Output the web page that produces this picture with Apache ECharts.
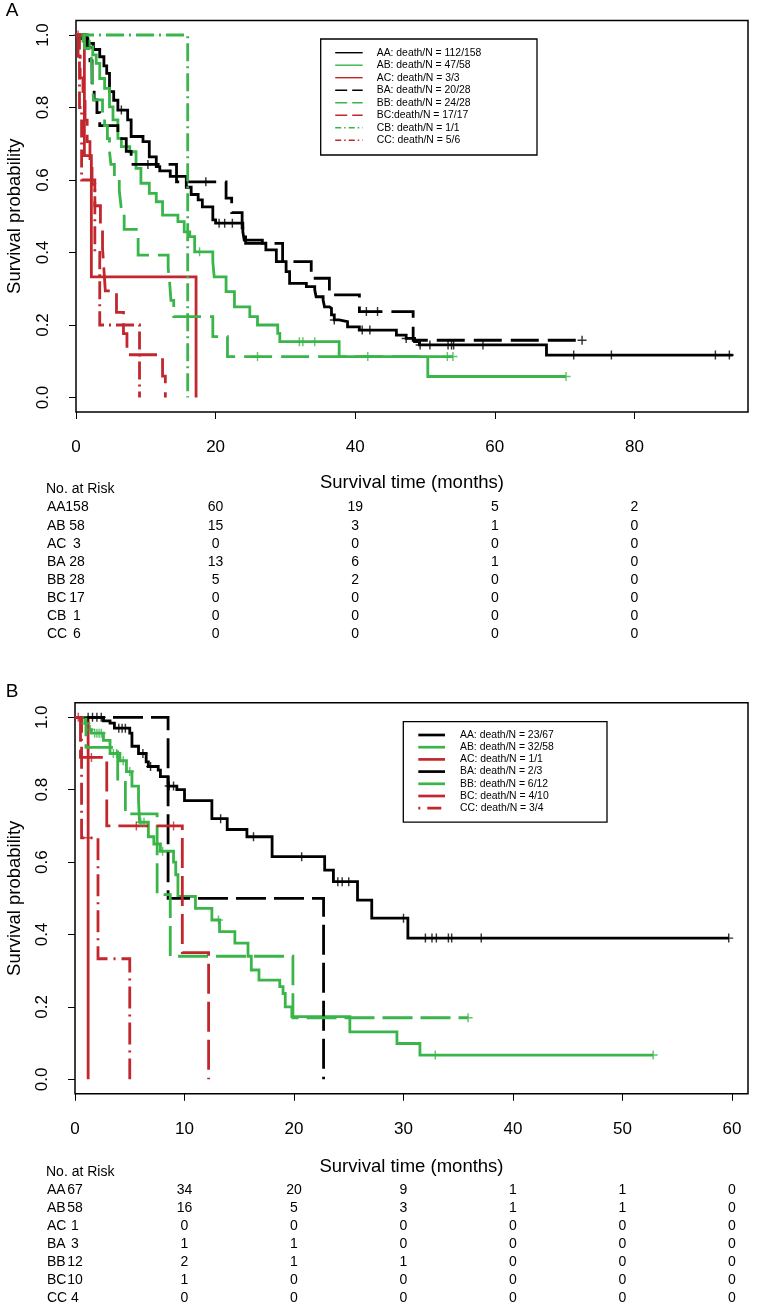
<!DOCTYPE html>
<html><head><meta charset="utf-8">
<script src="https://cdn.jsdelivr.net/npm/echarts@6/dist/echarts.min.js"></script>
<style>html,body{margin:0;padding:0;background:#fff}#c{width:757px;height:1306px}</style>
</head><body><div id="c"></div><script>
// ---------- DATA : panel A (Kaplan-Meier steps [time, survival]) ----------
const A_AA = [[0,1],[0.8,0.99],[1.7,0.977],[2.5,0.96],[3.4,0.94],[4.0,0.915],[4.4,0.894],[4.8,0.844],[5.4,0.82],[6.0,0.793],[7.4,0.766],[7.9,0.72],[9.6,0.706],[10.5,0.664],[11.5,0.637],[12.0,0.625],[13.5,0.61],[15.8,0.58],[16.5,0.56],[17.5,0.545],[18.1,0.526],[19.6,0.49],[20.0,0.481],[23.9,0.457],[24.1,0.434],[26.7,0.426],[27.2,0.407],[28.7,0.375],[30.1,0.347],[30.6,0.315],[33.0,0.306],[34.2,0.297],[34.4,0.278],[35.4,0.269],[35.6,0.25],[36.3,0.246],[36.6,0.228],[37.0,0.214],[37.7,0.209],[38.9,0.195],[40.6,0.186],[45.9,0.172],[47.3,0.163],[48.5,0.154],[49.2,0.145],[67.4,0.117],[94.1,0.117]];
const A_AA_cens = [6.5,20.5,21.3,22.4,37.0,41.0,42.1,47.3,49.3,50.7,53.3,53.8,54.1,58.3,71.3,76.7,91.6,93.6];
const A_AB = [[0,1],[1.0,0.983],[1.9,0.967],[2.4,0.945],[2.9,0.922],[3.4,0.88],[4.1,0.853],[4.8,0.802],[5.3,0.766],[6.0,0.715],[6.5,0.692],[7.7,0.678],[8.6,0.632],[9.3,0.591],[10.5,0.563],[11.5,0.54],[12.4,0.503],[14.6,0.485],[15.5,0.457],[16.3,0.444],[17.0,0.402],[19.6,0.375],[19.8,0.333],[21.5,0.292],[22.7,0.25],[24.9,0.223],[26.0,0.2],[28.9,0.177],[29.2,0.154],[37.7,0.113],[50.4,0.058],[70.2,0.058]];
const A_AB_cens = [17.7,32.0,32.5,34.2,70.2];
const A_AC = [[0,1],[1.2,0.667],[2.2,0.333],[17.2,0]];
const A_AC_cens = [];
const A_BA = [[0,1],[1.6,0.964],[2.0,0.929],[2.3,0.857],[2.6,0.821],[3.0,0.786],[3.4,0.75],[6.0,0.714],[7.2,0.679],[7.9,0.643],[14.4,0.595],[21.5,0.55],[22.3,0.51],[23.8,0.468],[24.3,0.425],[29.6,0.375],[33.7,0.329],[36.3,0.283],[40.6,0.237],[48.3,0.158],[72.5,0.158]];
const A_BA_cens = [10.3,18.6,41.6,43.2,72.5];
const A_BB = [[0,1],[1.2,0.964],[2.2,0.929],[2.3,0.893],[2.4,0.857],[2.5,0.821],[3.8,0.786],[4.1,0.75],[4.5,0.714],[4.8,0.679],[5.0,0.643],[5.5,0.607],[6.2,0.571],[6.4,0.536],[6.6,0.5],[6.9,0.464],[8.9,0.393],[13.2,0.357],[13.4,0.321],[13.6,0.268],[14.0,0.223],[19.6,0.168],[21.7,0.113],[54.0,0.113]];
const A_BB_cens = [26.0,41.8,53.2,54.0];
const A_BC = [[0,1],[0.3,0.941],[0.6,0.882],[1.0,0.824],[1.3,0.765],[1.6,0.706],[2.0,0.647],[2.3,0.588],[2.7,0.529],[3.5,0.471],[3.8,0.412],[4.0,0.353],[4.2,0.294],[5.8,0.235],[6.8,0.176],[7.3,0.118],[12.4,0.059],[12.8,0]];
const A_BC_cens = [];
const A_CB = [[0,1],[16.0,0]];
const A_CB_cens = [];
const A_CC = [[0,1],[0.5,0.8],[0.8,0.6],[2.7,0.4],[3.4,0.2],[9.1,0]];
const A_CC_cens = [0.3];

// ---------- DATA : panel B ----------
const B_AA = [[0,1],[2.6,0.99],[3.2,0.984],[3.6,0.97],[5.0,0.956],[5.2,0.92],[5.8,0.9],[6.5,0.877],[6.7,0.864],[7.6,0.854],[7.8,0.836],[8.5,0.81],[9.3,0.8],[10.0,0.77],[12.5,0.72],[13.9,0.69],[15.7,0.67],[18.0,0.615],[22.8,0.578],[23.6,0.546],[25.8,0.495],[27.1,0.445],[30.4,0.39],[59.7,0.39]];
const B_AA_cens = [1.2,1.6,2.0,2.4,4.0,4.3,4.6,6.2,6.9,8.6,9.0,13.3,16.3,20.7,24.0,24.4,25.0,30.0,32.0,32.6,33.0,34.1,34.4,37.1,59.7];
const B_AB = [[0,1],[0.9,0.983],[1.2,0.966],[1.5,0.956],[2.6,0.936],[3.2,0.9],[4.1,0.88],[4.7,0.85],[5.2,0.81],[5.8,0.77],[5.9,0.71],[6.7,0.67],[7.2,0.65],[7.8,0.63],[9.0,0.6],[9.2,0.565],[9.4,0.505],[11.0,0.472],[12.5,0.44],[13.2,0.408],[14.6,0.376],[15.8,0.34],[16.1,0.302],[16.8,0.274],[18.7,0.256],[19.0,0.237],[19.2,0.2],[19.8,0.173],[25.1,0.131],[29.4,0.099],[31.5,0.067],[52.8,0.067]];
const B_AB_cens = [1.0,1.4,1.8,2.0,2.2,2.4,3.5,3.8,4.4,5.0,6.0,6.3,8.0,13.1,32.9,52.8];
const B_AC = [[0,1],[1.2,0]];
const B_AC_cens = [];
const B_BA = [[0,1],[8.5,0.5],[22.7,0]];
const B_BA_cens = [];
const B_BB = [[0,1],[1.0,0.917],[3.9,0.825],[4.6,0.733],[7.5,0.51],[8.7,0.34],[19.9,0.17],[35.9,0.17]];
const B_BB_cens = [35.9];
const B_BC = [[0,1],[0.5,0.889],[2.9,0.70],[9.8,0.35],[12.2,0]];
const B_BC_cens = [0.3,1.5,5.6,9.0];
const B_CC = [[0,1],[0.6,0.667],[2.1,0.333],[5.0,0]];
const B_CC_cens = [1.2];

// ---------- legends, ticks, risk tables ----------
const legendA = ['AA: death/N = 112/158','AB: death/N = 47/58','AC: death/N = 3/3','BA: death/N = 20/28','BB: death/N = 24/28','BC:death/N = 17/17','CB: death/N = 1/1','CC: death/N = 5/6'];
const legendB = ['AA: death/N = 23/67','AB: death/N = 32/58','AC: death/N = 1/1','BA: death/N = 2/3','BB: death/N = 6/12','BC: death/N = 4/10','CC: death/N = 3/4'];
const groupsA = ['AA','AB','AC','BA','BB','BC','CB','CC'];
const groupsB = ['AA','AB','AC','BA','BB','BC','CC'];
const xTicksA = [0,20,40,60,80];
const xTicksB = [0,10,20,30,40,50,60];
const yTicks = [0,0.2,0.4,0.6,0.8,1.0];
const riskTimesA = [0,20,40,60,80];
const riskA = [[158,60,19,5,2],[58,15,3,1,0],[3,0,0,0,0],[28,13,6,1,0],[28,5,2,0,0],[17,0,0,0,0],[1,0,0,0,0],[6,0,0,0,0]];
const riskTimesB = [0,10,20,30,40,50,60];
const riskB = [[67,34,20,9,1,1,0],[58,16,5,3,1,1,0],[1,0,0,0,0,0,0],[3,1,1,0,0,0,0],[12,2,1,1,0,0,0],[10,1,0,0,0,0,0],[4,0,0,0,0,0,0]];

// ---------- styles ----------
const FONT = '"Liberation Sans", Arial, Helvetica, sans-serif';
const BLACK = '#000000', GREEN = '#39B54A', RED = '#C1272D';
const DASH_A = [28,9], DOTDASH_A = [18,5,2,5];
const DASH_B = [30,8], DOTDASH_B = [22,6,2,6];
const LEG_DASH_A = [12,5], LEG_DOTDASH_A = [6,3,1.5,3];
const curvesA = {
  AA:{d:A_AA,c:A_AA_cens,color:BLACK,dash:'solid',leg:null},
  AB:{d:A_AB,c:A_AB_cens,color:GREEN,dash:'solid',leg:null},
  AC:{d:A_AC,c:A_AC_cens,color:RED,dash:'solid',leg:null},
  BA:{d:A_BA,c:A_BA_cens,color:BLACK,dash:DASH_A,leg:LEG_DASH_A},
  BB:{d:A_BB,c:A_BB_cens,color:GREEN,dash:DASH_A,leg:LEG_DASH_A},
  BC:{d:A_BC,c:A_BC_cens,color:RED,dash:DASH_A,leg:LEG_DASH_A},
  CB:{d:A_CB,c:A_CB_cens,color:GREEN,dash:DOTDASH_A,leg:LEG_DOTDASH_A},
  CC:{d:A_CC,c:A_CC_cens,color:RED,dash:DOTDASH_A,leg:LEG_DOTDASH_A}
};
const curvesB = {
  AA:{d:B_AA,c:B_AA_cens,color:BLACK,dash:'solid',leg:null},
  AB:{d:B_AB,c:B_AB_cens,color:GREEN,dash:'solid',leg:null},
  AC:{d:B_AC,c:B_AC_cens,color:RED,dash:'solid',leg:null},
  BA:{d:B_BA,c:B_BA_cens,color:BLACK,dash:DASH_B,leg:null},
  BB:{d:B_BB,c:B_BB_cens,color:GREEN,dash:DASH_B,leg:null},
  BC:{d:B_BC,c:B_BC_cens,color:RED,dash:DASH_B,leg:null},
  CC:{d:B_CC,c:B_CC_cens,color:RED,dash:DOTDASH_B,leg:[2,7,14,100]}
};
const PLUS = 'path://M4.2,0H5.8V4.2H10V5.8H5.8V10H4.2V5.8H0V4.2H4.2Z';

function survAt(d, t){ let s = d[0][1]; for (const p of d){ if (p[0] <= t) s = p[1]; } return s; }

const series = [];
function addCurves(curves, gi){
  for (const k of Object.keys(curves)){
    const cv = curves[k];
    series.push({type:'line', name:k+gi, xAxisIndex:gi, yAxisIndex:gi, data:cv.d, step:'end', showSymbol:false, symbol:'none', clip:false, silent:true, animation:false,
      lineStyle:{color:cv.color, width:2.8, type:cv.dash, cap:'butt', join:'miter'}, z:2});
    if (cv.c.length){
      series.push({type:'scatter', xAxisIndex:gi, yAxisIndex:gi, data:cv.c.map(t=>[t, survAt(cv.d,t)]), symbol:PLUS, symbolSize:9, silent:true, animation:false,
        itemStyle:{color:cv.color}, z:3});
    }
  }
}
addCurves(curvesA, 0);
addCurves(curvesB, 1);

function xAxis(gi, max, ticks){
  return {type:'value', gridIndex:gi, min:0, max:max, axisLine:{show:false, onZero:false}, splitLine:{show:false},
    axisTick:{show:true, length:7, lineStyle:{color:'#000', width:1}, customValues:ticks},
    axisLabel:{show:true, customValues:ticks, color:'#000', fontSize:17, fontFamily:FONT, margin:27}};
}
function yAxis(gi){
  return {type:'value', gridIndex:gi, min:-0.04, max:1.04, axisLine:{show:false, onZero:false}, splitLine:{show:false},
    axisTick:{show:true, length:7, lineStyle:{color:'#000', width:1}, customValues:yTicks},
    axisLabel:{show:true, customValues:yTicks, rotate:90, color:'#000', fontSize:17, fontFamily:FONT, margin:24, formatter:v=>v.toFixed(1)}};
}

const chart = echarts.init(document.getElementById('c'), null, {renderer:'canvas', width:757, height:1306});
chart.setOption({
  backgroundColor:'#fff', animation:false,
  grid:[
    {left:76, top:20.5, width:672, height:391.5, show:true, borderColor:'#000', borderWidth:1.5, backgroundColor:'transparent', containLabel:false},
    {left:75, top:702.8, width:673, height:391, show:true, borderColor:'#000', borderWidth:1.5, backgroundColor:'transparent', containLabel:false}
  ],
  xAxis:[xAxis(0, 96.27, xTicksA), xAxis(1, 61.46, xTicksB)],
  yAxis:[yAxis(0), yAxis(1)],
  series: series
});

// ---------- graphic: titles, legends, risk tables ----------
const g = [];
function txt(x, y, s, size, align, rot){
  const o = {type:'text', x:x, y:y, silent:true, style:{text:s, fill:'#000', font: size+'px '+FONT, align:align||'left', verticalAlign:'middle'}};
  if (rot) o.rotation = rot;
  return o;
}
g.push(txt(12, 11, 'A', 19, 'center'));
g.push(txt(12, 692, 'B', 19, 'center'));

function panelTexts(gi, curves, legend, groups, riskTimes, risk, opt){
  const pTop = chart.convertToPixel({gridIndex:gi}, [0, 1.04]);
  const pBot = chart.convertToPixel({gridIndex:gi}, [0, -0.04]);
  const midX = (pTop[0] + 748) / 2;
  g.push(txt(15, (pTop[1]+pBot[1])/2, 'Survival probability', 18.5, 'center', Math.PI/2));
  g.push(txt(midX, pBot[1] + opt.xlabGap, 'Survival time (months)', 18.5, 'center'));
  g.push(txt(46, pBot[1] + opt.riskHead, 'No. at Risk', 14, 'left'));
  for (let i = 0; i < groups.length; i++){
    const y = pBot[1] + opt.riskHead + opt.rowH*(i+1);
    g.push(txt(47, y, groups[i], 14, 'left'));
    for (let j = 0; j < riskTimes.length; j++){
      const px = chart.convertToPixel({gridIndex:gi}, [riskTimes[j], 0])[0];
      g.push(txt(px + (j===0?opt.firstShift:0), y, String(risk[i][j]), 14, 'center'));
    }
  }
  // legend
  const L = opt.leg;
  g.push({type:'rect', silent:true, shape:{x:L.x, y:L.y, width:L.w, height:L.h}, style:{fill:'#fff', stroke:'#000', lineWidth:1.3}, z:10});
  groups.forEach((k, i) => {
    const cv = curves[k];
    const y = L.y + L.first + L.step*i;
    const st = {stroke:cv.color, lineWidth:L.lw};
    if (cv.leg) { st.lineDash = cv.leg; }
    g.push({type:'line', silent:true, z:11, shape:{x1:L.x+L.lx1, y1:y, x2:L.x+L.lx2, y2:y}, style:st});
    const t = txt(L.x+L.tx, y, legend[i], 10.4, 'left'); t.z = 11; g.push(t);
  });
}
panelTexts(0, curvesA, legendA, groupsA, riskTimesA, riskA, {xlabGap:71, riskHead:77.5, rowH:18.1, firstShift:1,
  leg:{x:320.7, y:39, w:216.3, h:116, first:13.7, step:12.5, lx1:14.5, lx2:42, tx:56, lw:1.4}});
panelTexts(1, curvesB, legendB, groupsB, riskTimesB, riskB, {xlabGap:73.5, riskHead:78.5, rowH:18, firstShift:0,
  leg:{x:403.3, y:721.7, w:203.7, h:100.5, first:13.3, step:12.2, lx1:15, lx2:41.7, tx:56.7, lw:2.7}});
chart.setOption({graphic: g});
</script></body></html>
